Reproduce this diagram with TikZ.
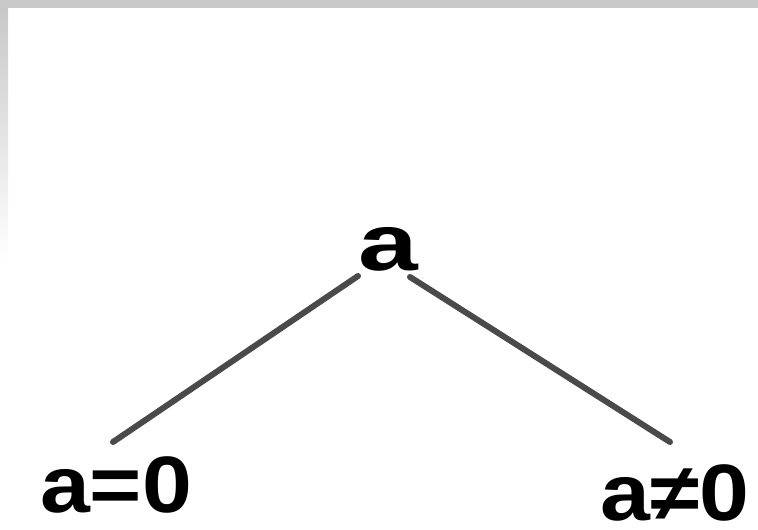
\documentclass[tikz,border=0pt]{standalone}
\usepackage{fontspec}
\setmainfont{Liberation Sans}
\usetikzlibrary{calc}

\definecolor{framegray}{HTML}{C8C8C8}
\definecolor{branchgray}{HTML}{4A4A4A}

\newcommand{\wide}[2]{\scalebox{#1}[1]{#2}}

\tikzset{
    branch/.style={line width=6pt, color=branchgray, line cap=round},
    label/.style={inner sep=0pt, anchor=base, font=\fontsize{80}{96}\selectfont\bfseries}
}

\begin{document}
\begin{tikzpicture}[x=1pt, y=-1pt]
        \useasboundingbox (0,0) rectangle (758,530);

        % grey frame on top and left
        \fill[framegray] (0,0) rectangle (758,8);
        \shade[top color=framegray, bottom color=white] (0,8) rectangle (8,260);

        \node[label] (root) at (388,270) {\wide{1.34}{a}};
        \node[label] (zero) at (116,512) {\wide{1.12}{a=0}};
        \node[label] (nonzero) at (675,520) {\wide{1.12}{a≠0}};

        \draw[branch] ([shift={(-30,6)}]root.base) -- ([shift={(-3,-70)}]zero.base);
        \draw[branch] ([shift={(22,7)}]root.base) -- ([shift={(-5,-78)}]nonzero.base);
\end{tikzpicture}
\end{document}
